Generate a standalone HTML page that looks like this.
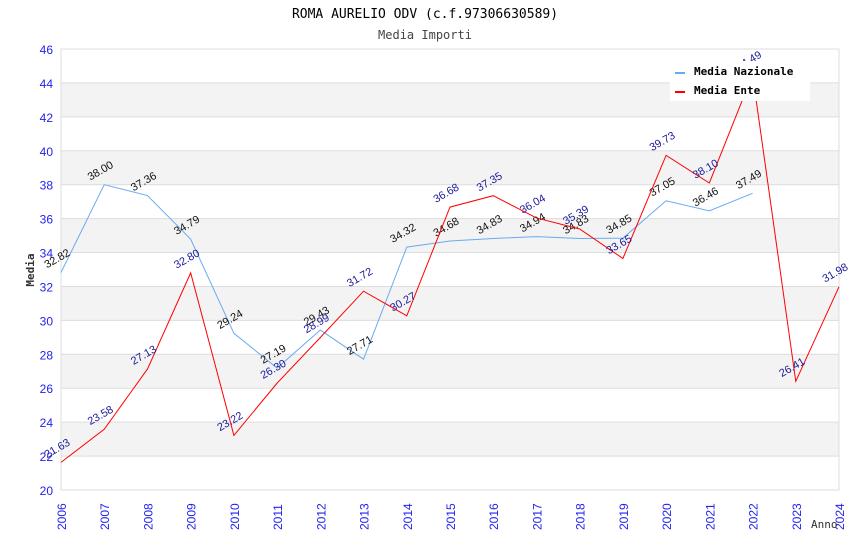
<!DOCTYPE html>
<html><head><meta charset="utf-8"><style>
body{margin:0;background:#fff;}
svg{display:block;font-family:"DejaVu Sans Mono","Liberation Mono",monospace;}
</style></head><body>
<svg id="c" width="850" height="550">
<text x="425" y="18" text-anchor="middle" font-size="13">ROMA AURELIO ODV (c.f.97306630589)</text>
<text x="425" y="39" text-anchor="middle" font-size="12" fill="#444">Media Importi</text>
<g id="grid"></g><g id="axes"></g><g id="series"></g>
<text transform="translate(34,270) rotate(-90)" text-anchor="middle" font-size="11" font-weight="bold" fill="#333">Media</text>
<text x="811" y="528" font-size="11" fill="#333">Anno</text>
<g>
<rect x="670" y="61" width="140" height="40" fill="#fff"/>
<rect x="675" y="72" width="10" height="2" fill="#6aaaf0"/>
<text x="694" y="75" font-size="11" font-weight="bold">Media Nazionale</text>
<rect x="675" y="91" width="10" height="2" fill="#ff0000"/>
<text x="694" y="94" font-size="11" font-weight="bold">Media Ente</text>
</g>
</svg>
<script>
const years=[2006,2007,2008,2009,2010,2011,2012,2013,2014,2015,2016,2017,2018,2019,2020,2021,2022,2023,2024];
const nazionale=[32.82,38.00,37.36,34.79,29.24,27.19,29.43,27.71,34.32,34.68,34.83,34.94,34.83,34.85,37.05,36.46,37.49];
const ente=[21.63,23.58,27.13,32.80,23.22,26.30,28.99,31.72,30.27,36.68,37.35,36.04,35.39,33.65,39.73,38.10,44.49,26.41,31.98];
const yTicks=[20,22,24,26,28,30,32,34,36,38,40,42,44,46];
const L=61,R=839,T=49,B=490,ymin=20,ymax=46;
const ns="http://www.w3.org/2000/svg";
const xs=i=>L+(R-L)*i/(years.length-1);
const ys=v=>B-(v-ymin)/(ymax-ymin)*(B-T);
function mk(tag,attrs,parent){const e=document.createElementNS(ns,tag);for(const k in attrs)e.setAttribute(k,attrs[k]);parent.appendChild(e);return e;}
const grid=document.getElementById('grid'),axes=document.getElementById('axes'),ser=document.getElementById('series');
for(let i=0;i<yTicks.length-1;i++){
  if(i%2===1){const r=mk('rect',{x:L,y:ys(yTicks[i+1]),width:R-L,height:ys(yTicks[i])-ys(yTicks[i+1]),fill:'#f3f3f3'},grid);
  
  }
}
yTicks.forEach(t=>{
  const l=mk('line',{x1:L,x2:R,y1:ys(t),y2:ys(t),stroke:'#ddd'},grid);
  
  
  const tx=mk('text',{x:L-8,y:ys(t)+5,'text-anchor':'end','font-size':12,fill:'#2222ee','font-family':'Liberation Sans, sans-serif'},axes);
  tx.textContent=t;
  
  
});
mk('rect',{x:L,y:T,width:R-L,height:B-T,fill:'none',stroke:'#ddd'},axes);
years.forEach((y,i)=>{
  const tx=mk('text',{transform:`translate(${xs(i)+5},${B+40}) rotate(-90)`,'font-size':12,fill:'#2222ee','font-family':'Liberation Sans, sans-serif'},axes);
  tx.textContent=y;
  
  
});
function draw(data,color,lab,name){
  const p=mk('polyline',{points:data.map((v,i)=>xs(i)+','+ys(v)).join(' '),fill:'none',stroke:color,'stroke-width':1},ser);
  
  
  data.forEach((v,i)=>{
    const t=mk('text',{transform:`translate(${xs(i)-14},${ys(v)-4}) rotate(-30)`,'font-size':11,fill:lab,'font-family':'Liberation Sans, sans-serif'},ser);
    t.textContent=v.toFixed(2);
    
    
  });
}
draw(nazionale,'#6aaaf0','#111','nazionale');
draw(ente,'#ff0000','#1a1a99','ente');
</script>
</body></html>
